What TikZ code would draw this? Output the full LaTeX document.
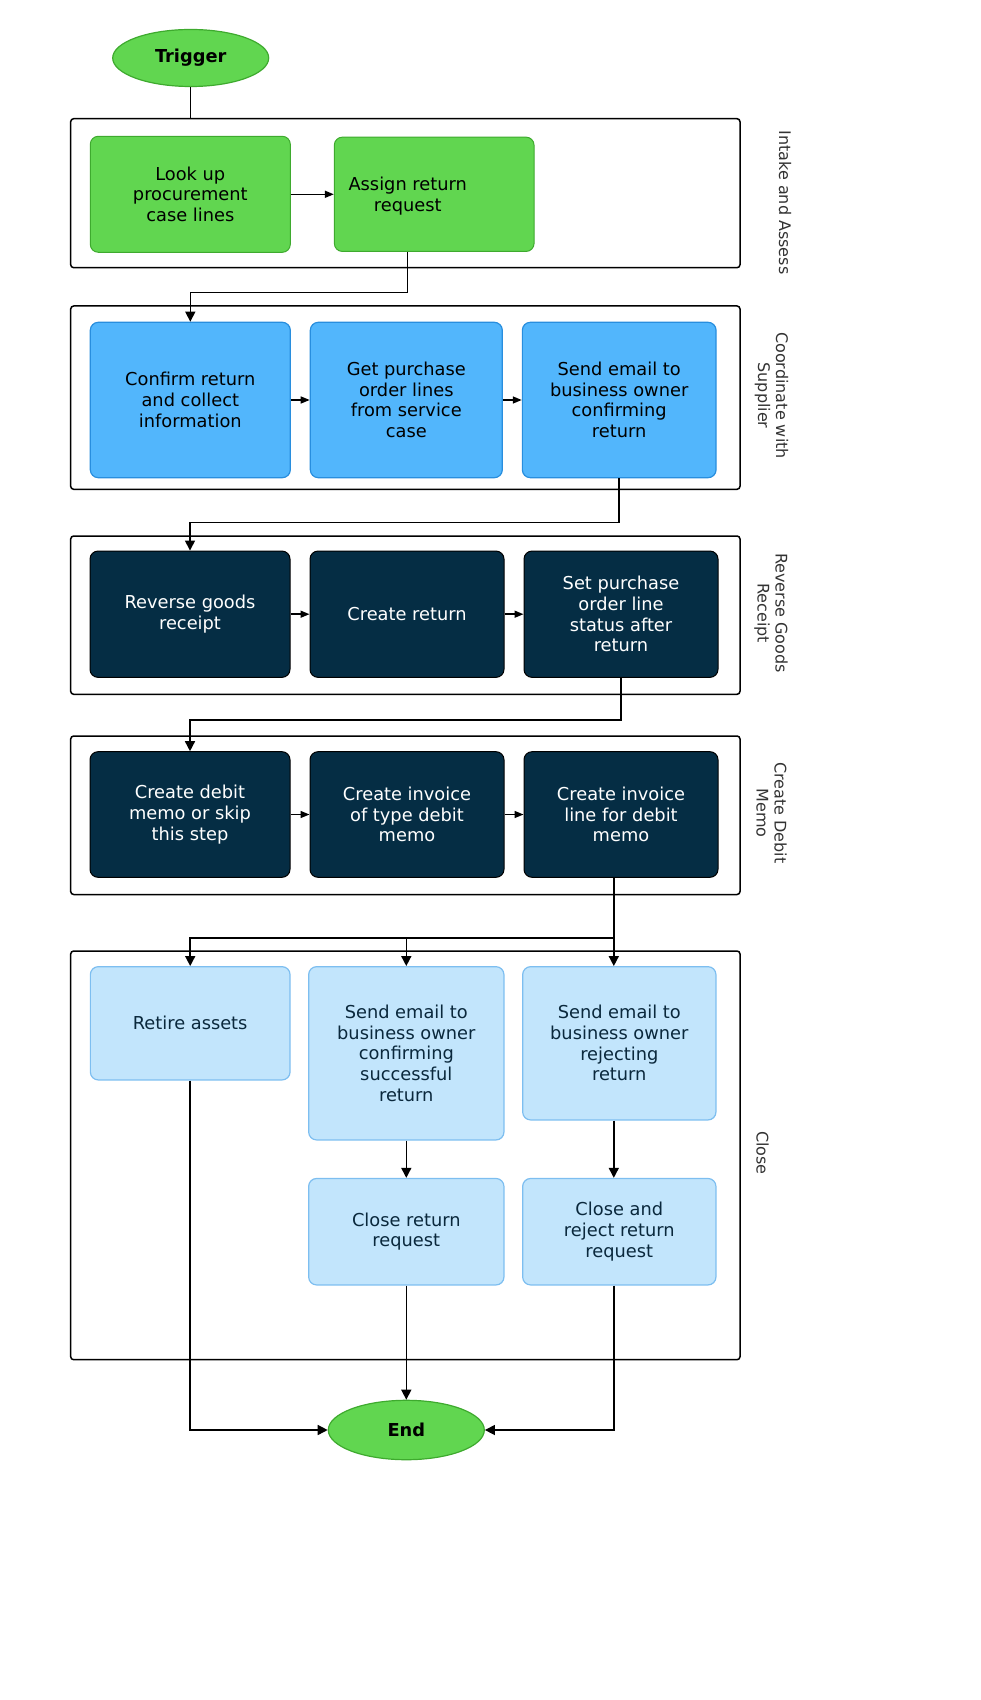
\documentclass[tikz,border=0pt]{standalone}
\usepackage{fontspec}
\setmainfont{DejaVu Sans}
\usetikzlibrary{arrows.meta}
\usetikzlibrary{shapes.geometric}
\definecolor{leaf}{RGB}{97,214,80}
\definecolor{leafline}{RGB}{62,170,46}
\definecolor{sky}{RGB}{82,182,252}
\definecolor{skyline}{RGB}{40,142,222}
\definecolor{navy}{RGB}{5,45,68}
\definecolor{pale}{RGB}{194,229,252}
\definecolor{paleline}{RGB}{125,190,240}
\definecolor{paletext}{RGB}{10,40,60}
\tikzset{
  lane/.style={draw=black, line width=0.75pt, rounded corners=1.5pt, minimum width=334.65pt},
  lanelabel/.style={rotate=-90, align=center, text=black!80, font=\fontsize{8}{9}\selectfont},
  card/.style={rounded corners=4pt, align=center, inner sep=2pt, font=\fontsize{8.9}{10.35}\selectfont},
  greencard/.style={card, fill=leaf, draw=leafline, line width=0.5pt},
  bluecard/.style={card, fill=sky, draw=skyline, line width=0.6pt},
  darkcard/.style={card, fill=navy, draw=black, line width=0.5pt, text=white},
  palecard/.style={card, fill=pale, draw=paleline, line width=0.6pt, text=paletext},
  terminal/.style={ellipse, fill=leaf, draw=leafline, line width=0.6pt, inner sep=0pt,
    minimum width=78pt, minimum height=28.5pt, font=\fontsize{8.9}{10.35}\selectfont\bfseries},
  flow/.style={line width=0.75pt, -{Triangle[length=5pt,width=5pt]}},
  hop/.style={line width=0.75pt, -{Triangle[length=4.5pt,width=3.5pt]}},
}

\begin{document}
\begin{tikzpicture}[x=0.5pt,y=-0.5pt]
  \useasboundingbox (0,0) rectangle (980,1700);

  \node[lane, minimum height=74.5pt] (lane1) at (405.35,193.2) {};
  \node[lane, minimum height=91.65pt] (lane2) at (405.35,397.65) {};
  \node[lane, minimum height=79.15pt] (lane3) at (405.35,615.15) {};
  \node[lane, minimum height=79.25pt] (lane4) at (405.35,815.25) {};
  \node[lane, minimum height=204.35pt] (lane5) at (405.35,1155.35) {};

  \node[lanelabel] (intake) at (785,202.5) {Intake and Assess};
  \node[lanelabel] (coord) at (771.5,395.5) {Coordinate with\\Supplier};
  \node[lanelabel] (revgoods) at (771,613) {Reverse Goods\\Receipt};
  \node[lanelabel] (debmemo) at (771.5,813) {Create Debit\\Memo};
  \node[lanelabel] (closing) at (762.7,1153) {Close};

  \node[terminal] (trigger) at (190.7,58) {Trigger};
  \node[terminal, minimum height=29.7pt] (end) at (406.3,1430) {End};

  \node[greencard, minimum width=100pt, minimum height=58pt] (lookup) at (190.3,194.3) {Look up\\procurement\\case lines};
  \node[greencard, minimum width=99.85pt, minimum height=57.15pt] (assign) at (434.2,194.3) {};
  \node[card] (assigntext) at (407.7,196) {Assign return\\request};

  \node[bluecard, minimum width=100pt, minimum height=77.7pt] (confirm) at (190.3,400) {Confirm return\\and collect\\information};
  \node[bluecard, minimum width=96pt, minimum height=77.7pt] (getpo) at (406.3,400) {Get purchase\\order lines\\from service\\case};
  \node[bluecard, minimum width=96.85pt, minimum height=77.7pt] (sendconf) at (619.2,400) {Send email to\\business owner\\confirming\\return};

  \node[darkcard, minimum width=100pt, minimum height=63.15pt] (reverse) at (190,614.2) {Reverse goods\\receipt};
  \node[darkcard, minimum width=97pt, minimum height=63.15pt] (createret) at (407,614.2) {Create return};
  \node[darkcard, minimum width=97pt, minimum height=63.15pt] (setpo) at (621,614.2) {Set purchase\\order line\\status after\\return};

  \node[darkcard, minimum width=100pt, minimum height=62.8pt] (debit) at (190,814.5) {Create debit\\memo or skip\\this step};
  \node[darkcard, minimum width=97pt, minimum height=62.8pt] (invoice) at (407,814.5) {Create invoice\\of type debit\\memo};
  \node[darkcard, minimum width=97pt, minimum height=62.8pt] (invline) at (621,814.5) {Create invoice\\line for debit\\memo};

  \node[palecard, minimum width=99.85pt, minimum height=56.65pt] (retire) at (190.2,1023.3) {Retire assets};
  \node[palecard, minimum width=97.65pt, minimum height=86.65pt] (sendok) at (406.3,1053.3) {Send email to\\business owner\\confirming\\successful\\return};
  \node[palecard, minimum width=96.65pt, minimum height=76.65pt] (sendrej) at (619.3,1043.3) {Send email to\\business owner\\rejecting\\return};
  \node[palecard, minimum width=97.65pt, minimum height=53.25pt] (closeok) at (406.3,1231.7) {Close return\\request};
  \node[palecard, minimum width=96.65pt, minimum height=53.25pt] (closerej) at (619.3,1231.7) {Close and\\reject return\\request};

  \draw[line width=0.75pt] (trigger) -- (trigger |- lane1.north);
  \draw[hop] (lookup) -- (assign);
  \draw[flow] ([xshift=-13.45pt]assign.south) -- ++(0,40.7) -| (confirm.north);

  \draw[hop] (confirm) -- (getpo);
  \draw[hop] (getpo) -- (sendconf);
  \draw[flow] (sendconf.south) -- ++(0,44) -| (reverse.north);

  \draw[hop] (reverse) -- (createret);
  \draw[hop] (createret) -- (setpo);
  \draw[flow] (setpo.south) -- ++(0,42) -| (debit.north);

  \draw[hop] (debit) -- (invoice);
  \draw[hop] (invoice) -- (invline);
  \coordinate (split) at ([xshift=-3.6pt,yshift=-30.2pt]invline.south);
  \draw[line width=0.75pt] ([xshift=-3.6pt]invline.south) -- (split);
  \draw[flow] (split) -| (retire.north);
  \draw[flow] (split -| sendok.north) -- (sendok.north);
  \draw[flow] (split) -- (split |- sendrej.north);

  \draw[flow] (sendok) -- (closeok);
  \draw[flow] (split |- sendrej.south) -- (split |- closerej.north);
  \draw[flow] (retire.south) |- (end.west);
  \draw[flow] (closeok) -- (end);
  \draw[flow] (split |- closerej.south) |- (end.east);
\end{tikzpicture}
\end{document}
